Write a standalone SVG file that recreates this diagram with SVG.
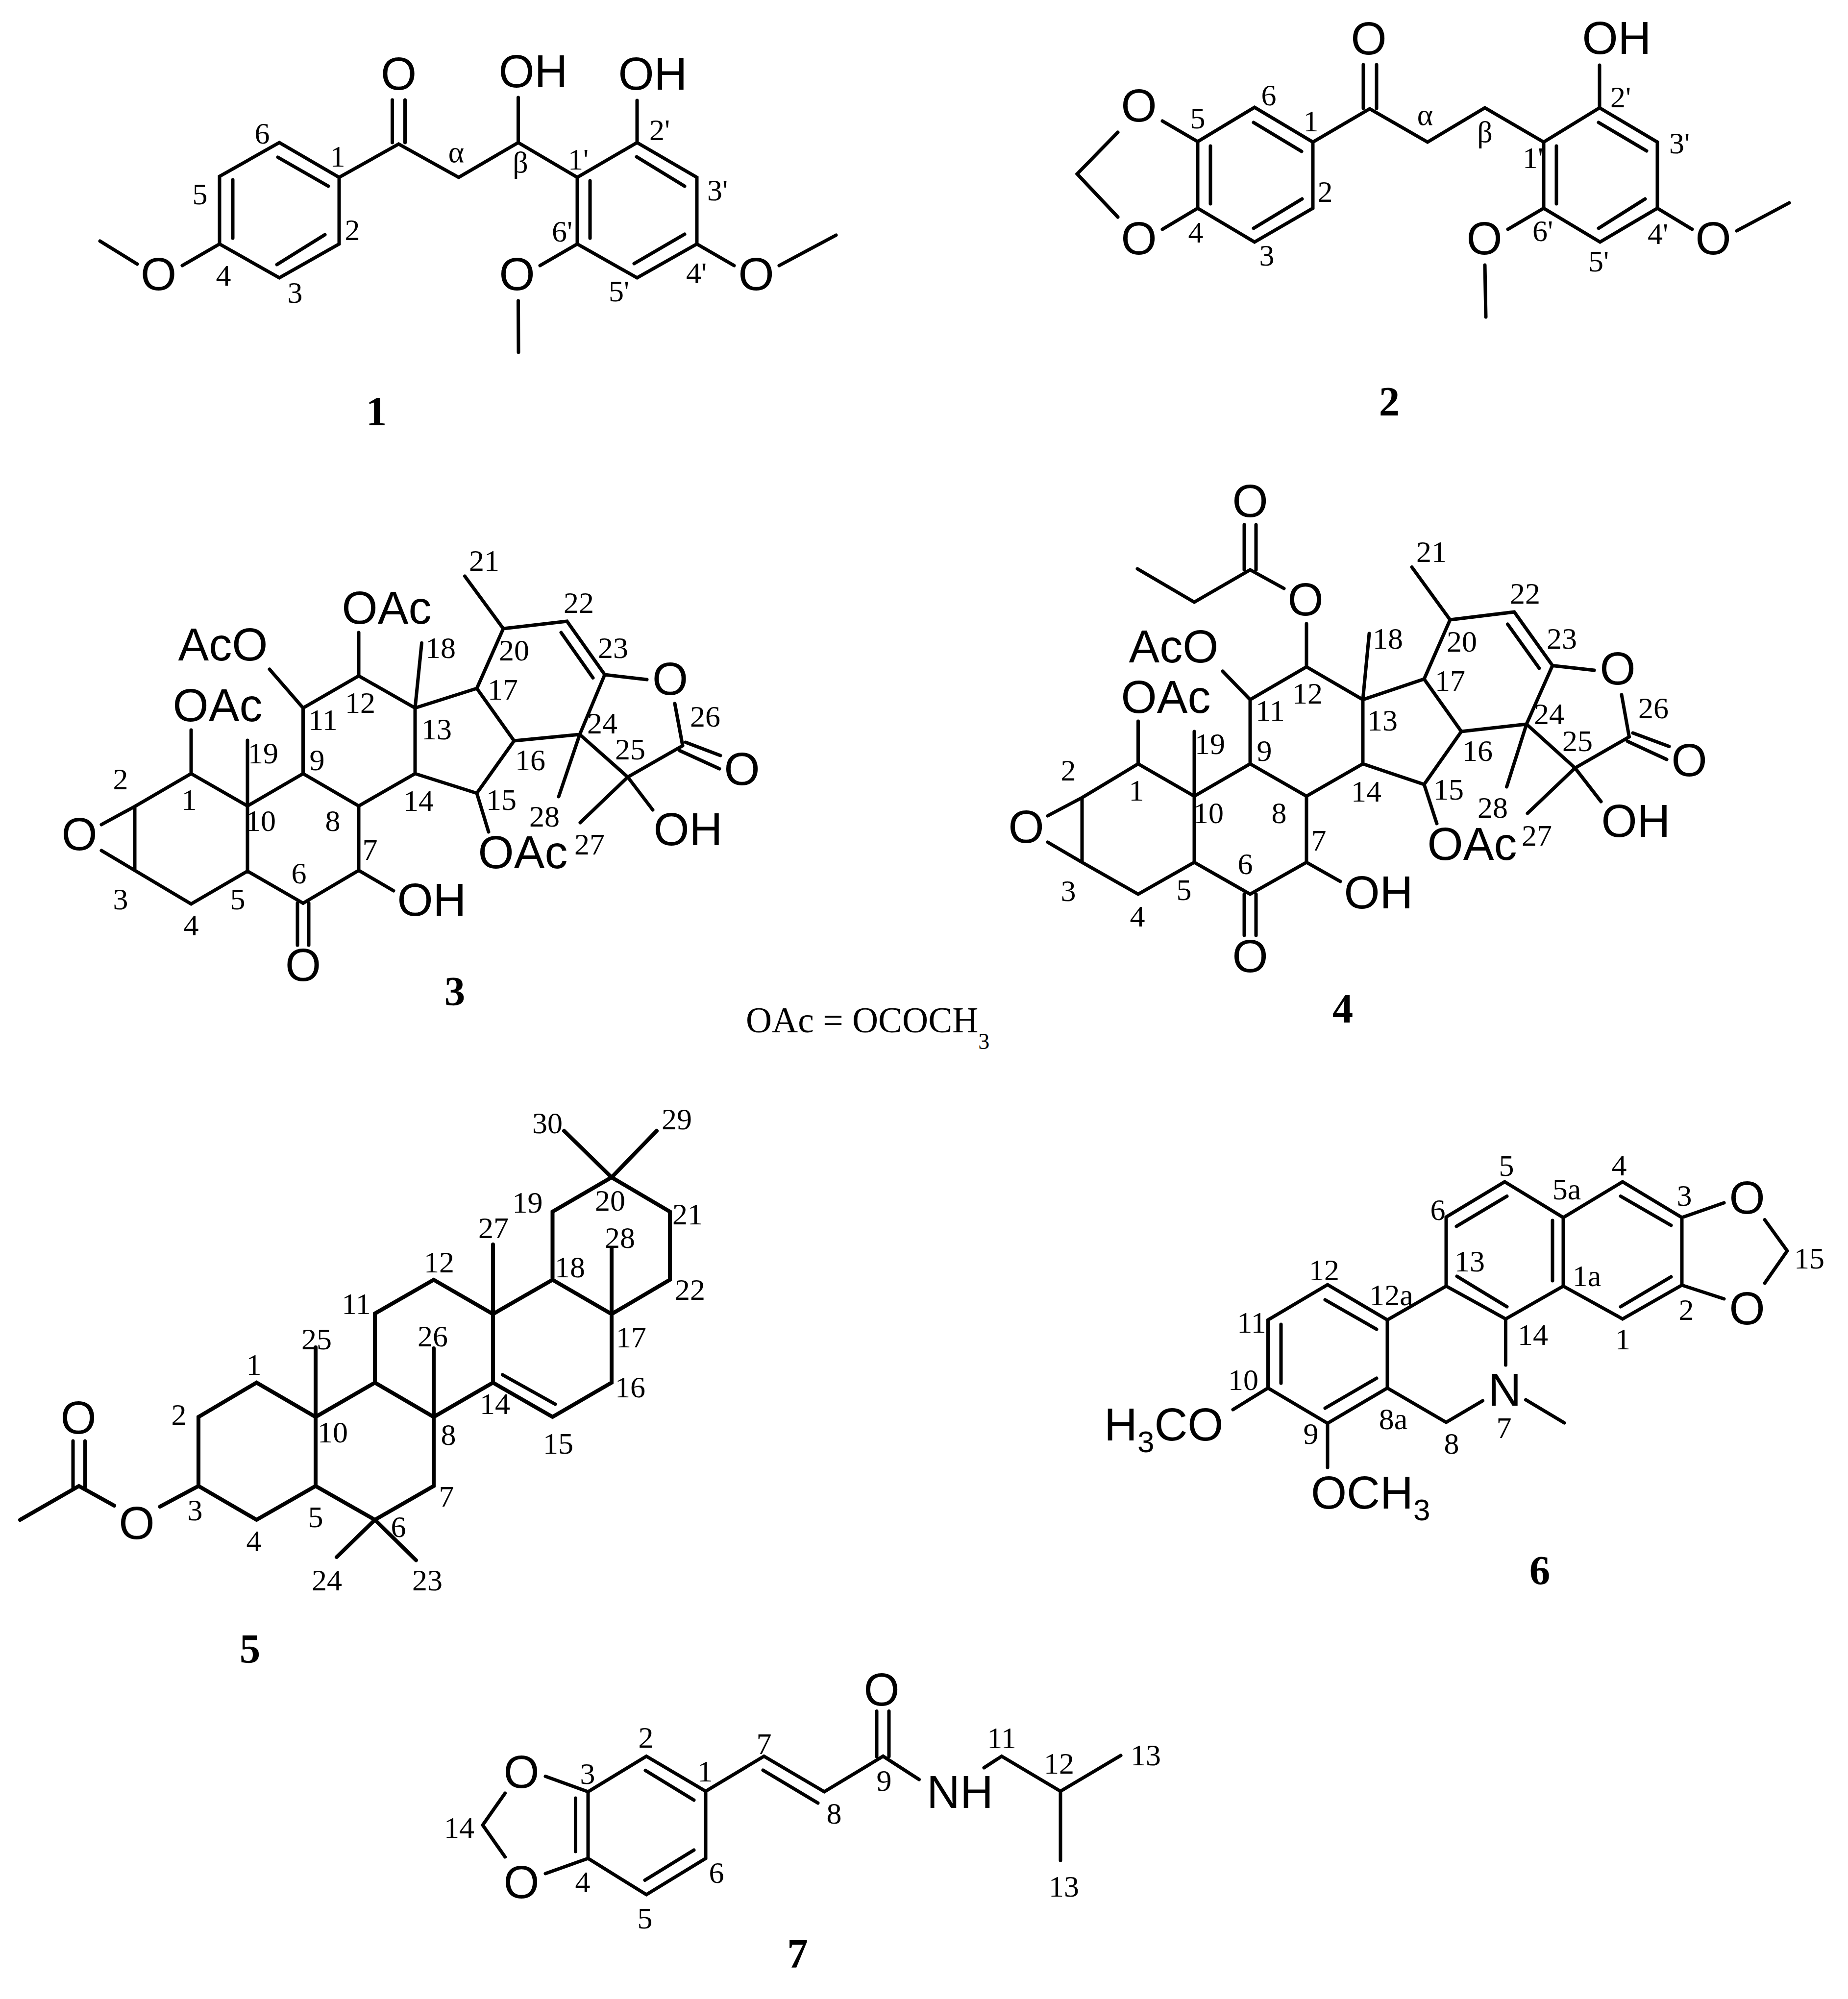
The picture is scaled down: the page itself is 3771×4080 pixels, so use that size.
<svg xmlns="http://www.w3.org/2000/svg" width="3771" height="4080" viewBox="0 0 3771 4080">
<style>
.bg{fill:#fff}
.bond{fill:none;stroke:#000;stroke-width:7;stroke-linejoin:miter;stroke-linecap:round}
.heavy{stroke-width:8}
text{fill:#000}
.a{font-family:"Liberation Sans",Arial,sans-serif;font-size:94px;text-anchor:middle}
.n{font-family:"Liberation Serif","Times New Roman",serif;font-size:62px;text-anchor:middle}
.c{font-family:"Liberation Serif","Times New Roman",serif;font-size:85px;font-weight:bold;text-anchor:middle}
.s{text-anchor:start}
.f{font-family:"Liberation Serif","Times New Roman",serif;font-size:73.5px}
</style>
<rect class="bg" width="3771" height="4080"/>
<g id="connectors">
<path class="bond" d="M570 291L692 362L692 498L570 567L448 498L448 360ZM567 321L670 380M475 367L475 486M663 479L565 540M692 362L813.5 294L936 362L1057.5 291L1178 362L1300 291L1422 362L1422 498L1300 567L1178 498L1178 362M800.5 204L800.5 291M826.5 204L826.5 291M1057.5 199L1057.5 291M1300 205L1300 291M1299 320L1397 380M1204 369L1204 486M1397 478L1294 538M448 498L372 542M280 539L204 492M1178 498L1102 542M1057.5 614L1058 719M1422 498L1498 542M1590 542L1706 480"/>
<path class="bond" d="M2560 219L2679 290L2679 425L2560 494L2444 425L2444 289ZM2558 250L2656 309M2470 298L2470 416M2657 406L2558 466M2679 290L2795 222L2913 290L3030 220L3150 290L3264 220L3382 290L3382 425L3265 494L3150 425L3150 290M2782 132L2782 221M2809 132L2809 221M3264 133L3264 220M3262 250L3360 308M3176 298L3176 416M3357 406L3262 466M2444 289L2372 247M2281 270L2198 355L2281 443M2444 425L2372 468M3150 425L3077 468M3030 541L3032 647M3382 425L3453 468M3544 471L3651 414"/>
<path class="bond" d="M390 1579L275 1646L275 1776.5L390 1845L505 1778L505 1645ZM505 1645L618.5 1579L732 1645L732 1776.5L618.5 1843.5L505 1778M618.5 1579L618.5 1445L732 1379.5L847 1445L847 1579L732 1645M847 1579L973 1619L1049 1512L973 1405L847 1445M973 1405L1027 1283L1157 1268L1234 1377L1183 1499L1049 1512M1027 1283L948.5 1176M390 1579L390 1490M505 1645L505 1511M207 1683L275 1646M207 1736L275 1776.5M618.5 1445L550 1366M732 1379.5L732 1291M847 1445L860.5 1312.5M607 1843L607 1929M630 1843L630 1929M1145 1291L1210 1383.5M1234 1377L1320 1387M1377 1436L1393 1522M1399 1515L1470 1542M1387 1532L1468 1569M1183 1499L1140 1626M1183 1499L1281 1586L1393 1522M1281 1586L1184 1679M1281 1586L1332 1653M973 1619L997 1698M732 1776.5L803 1818"/>
<path class="bond" d="M2322.5 1559L2208 1628L2208 1760L2322.5 1825L2437 1760L2437 1625ZM2437 1625L2551 1559L2666 1625L2666 1760L2551 1825L2437 1760M2551 1559L2551 1428L2666 1361L2781 1428L2781 1559L2666 1625M2781 1559L2906 1601L2982 1493L2906 1386L2781 1428M2906 1386L2959 1265L3090 1249L3168 1358.5L3115 1478L2982 1493M2959 1265L2881 1157.5M2322.5 1559L2322.5 1472M2437 1625L2437 1493M2138 1665L2208 1628M2138 1719L2208 1760M2551 1428L2495 1370M2666 1361L2666 1273M2620 1201L2551 1163L2437 1229L2321 1161M2539 1071L2539 1163M2563 1071L2563 1163M2781 1428L2794 1293M3076.5 1274L3141 1364M3168 1358.5L3253 1368M3309 1418L3324.5 1504M3332 1496L3406 1523.5M3321 1513L3401 1550M3115 1478L3074.5 1606M3115 1478L3214 1567.5L3324.5 1504M3214 1567.5L3117 1660M3214 1567.5L3267 1636M2906 1601L2932 1681M2666 1760L2735 1799M2539 1825L2539 1909M2563 1825L2563 1909"/>
<path class="bond heavy" d="M523.5 2822L405 2892L405 3033L523.5 3102L644 3033L644 2892ZM644 2892L644 2750M644 2892L765 2822L885 2892L885 3033L765 3102L644 3033M885 2892L885 2752M765 2822L765 2681L885 2612L1006 2682L1006 2822L885 2892M1006 2682L1006 2540M1006 2822L1127.5 2892L1248 2822L1248 2682L1127.5 2612L1006 2682M1127.5 2612L1127.5 2473L1248 2403L1367 2473L1367 2612L1248 2682M1248 2682L1248 2547M1248 2403L1151 2308M1248 2403L1340 2308M765 3102L687 3178M765 3102L849 3184.5M405 3033L326.5 3075M233 3073L161 3033L41 3102"/>
<path class="bond" d="M1025.5 2806L1133 2866M149 2941L149 3036M173.5 2941L173.5 3036"/>
<path class="bond" d="M3070.5 2412L2951 2484L2951 2625L3072.5 2692L3190 2625L3190 2485ZM3190 2485L3311 2412L3432 2485L3432 2623L3311 2692L3190 2625M3432 2485L3518 2455M3432 2623L3518 2651M3601 2489.5L3647 2553L3601 2619M2951 2625L2831 2694L2709 2622L2587.5 2694L2587.5 2833L2709 2905L2831 2833L2831 2694M2831 2833L2951 2903L3025.5 2859M3072.5 2692L3072.5 2786M3113.5 2857L3192 2904M3075 2441.5L2972 2503M3168 2491L3168 2614M3307 2441.5L3410 2501M3410 2606L3307 2667M2973 2605L3075 2667M2704 2653L2809 2713M2614 2703L2614 2823M2704 2874L2809 2813M2587.5 2833L2516 2877M2709 2905L2709 2995"/>
<path class="bond" d="M1200 3657L1319 3584.5L1440 3656L1440 3793L1319 3867L1200 3793ZM1317 3613.5L1416 3674M1174.5 3670L1174.5 3779M1416 3776L1316 3837.5M1200 3657L1113 3625.5M1200 3793L1113 3824M1030.6 3660L985 3725L1030.6 3790M1440 3656L1559 3584.5L1682 3657L1802 3584.5L1875.5 3632M1557 3613L1669 3680M1789 3492.5L1789 3585M1814 3492.5L1814 3585M2008 3608L2044 3584.5L2164 3656L2287 3583M2164 3656L2164 3797"/>
</g>
<g id="compound-1">
<text class="a" x="813.5" y="183">O</text><text class="a" x="1088" y="178">OH</text><text class="a" x="1332" y="183">OH</text><text class="a" x="323.5" y="592">O</text><text class="a" x="1055" y="592">O</text><text class="a" x="1543" y="592">O</text>
<text class="n" x="535" y="293">6</text><text class="n" x="689" y="340">1</text><text class="n" x="408" y="417">5</text><text class="n" x="719" y="490">2</text><text class="n" x="456" y="583">4</text><text class="n" x="602" y="618">3</text><text class="n" x="931" y="331">α</text><text class="n" x="1062" y="352">β</text><text class="n" x="1180" y="346">1'</text><text class="n" x="1346" y="286">2'</text><text class="n" x="1464" y="409">3'</text><text class="n" x="1147" y="493">6'</text><text class="n" x="1421" y="578">4'</text><text class="n" x="1263" y="615">5'</text>
<text class="c" x="768" y="868">1</text>
</g>
<g id="compound-2">
<text class="a" x="2793" y="111">O</text><text class="a" x="3299" y="110">OH</text><text class="a" x="2324" y="248">O</text><text class="a" x="2324" y="519">O</text><text class="a" x="3029" y="519">O</text><text class="a" x="3496" y="519">O</text>
<text class="n" x="2589" y="215">6</text><text class="n" x="2444" y="262">5</text><text class="n" x="2675" y="268">1</text><text class="n" x="2704" y="412">2</text><text class="n" x="2440" y="495">4</text><text class="n" x="2585" y="542">3</text><text class="n" x="2908" y="255">α</text><text class="n" x="3030" y="290">β</text><text class="n" x="3307" y="219">2'</text><text class="n" x="3427" y="313">3'</text><text class="n" x="3128" y="343">1'</text><text class="n" x="3148" y="492">6'</text><text class="n" x="3383" y="498">4'</text><text class="n" x="3262" y="554">5'</text>
<text class="c" x="2835" y="848">2</text>
</g>
<g id="compound-3">
<text class="a" x="444" y="1472">OAc</text><text class="a" x="455" y="1348">AcO</text><text class="a" x="789" y="1273">OAc</text><text class="a" x="1067" y="1772">OAc</text><text class="a" x="881" y="1869">OH</text><text class="a" x="1404" y="1725">OH</text><text class="a" x="162" y="1735">O</text><text class="a" x="1367.5" y="1418">O</text><text class="a" x="1514" y="1602">O</text><text class="a" x="618.5" y="2002">O</text>
<text class="n" x="988" y="1165">21</text><text class="n" x="1181" y="1251">22</text><text class="n" x="1251" y="1343">23</text><text class="n" x="899" y="1343">18</text><text class="n" x="1049" y="1348">20</text><text class="n" x="1026" y="1428">17</text><text class="n" x="735" y="1455">12</text><text class="n" x="659" y="1490">11</text><text class="n" x="891" y="1509">13</text><text class="n" x="1229" y="1497">24</text><text class="n" x="1439" y="1483">26</text><text class="n" x="1286" y="1550">25</text><text class="n" x="1082" y="1572">16</text><text class="n" x="537" y="1558">19</text><text class="n" x="647" y="1572">9</text><text class="n" x="246" y="1611">2</text><text class="n" x="386" y="1653">1</text><text class="n" x="854" y="1655">14</text><text class="n" x="1023" y="1653">15</text><text class="n" x="1111" y="1687">28</text><text class="n" x="532" y="1696">10</text><text class="n" x="679" y="1696">8</text><text class="n" x="1203" y="1744">27</text><text class="n" x="755" y="1755">7</text><text class="n" x="610" y="1803">6</text><text class="n" x="485" y="1855.5">5</text><text class="n" x="246" y="1855.5">3</text><text class="n" x="390" y="1909">4</text>
<text class="c" x="928" y="2052">3</text>
</g>
<g id="compound-4">
<text class="a" x="2379" y="1455">OAc</text><text class="a" x="2395" y="1352">AcO</text><text class="a" x="2664" y="1256">O</text><text class="a" x="2551" y="1055">O</text><text class="a" x="3004" y="1755">OAc</text><text class="a" x="2813" y="1854">OH</text><text class="a" x="3338" y="1708">OH</text><text class="a" x="2094" y="1720">O</text><text class="a" x="3301" y="1397">O</text><text class="a" x="3447" y="1584">O</text><text class="a" x="2551" y="1984">O</text>
<text class="n" x="2921" y="1146.5">21</text><text class="n" x="3112" y="1232">22</text><text class="n" x="3187" y="1324">23</text><text class="n" x="2832" y="1324">18</text><text class="n" x="2983" y="1330">20</text><text class="n" x="2959" y="1410">17</text><text class="n" x="2668" y="1435.5">12</text><text class="n" x="2592" y="1471">11</text><text class="n" x="2821" y="1491">13</text><text class="n" x="3161" y="1478">24</text><text class="n" x="3374" y="1466">26</text><text class="n" x="3219" y="1533">25</text><text class="n" x="3015" y="1553">16</text><text class="n" x="2469" y="1539">19</text><text class="n" x="2580" y="1553">9</text><text class="n" x="2180" y="1593">2</text><text class="n" x="2319" y="1633.5">1</text><text class="n" x="2788" y="1636">14</text><text class="n" x="2956" y="1632">15</text><text class="n" x="3046" y="1669">28</text><text class="n" x="2466" y="1680">10</text><text class="n" x="2610" y="1680">8</text><text class="n" x="3136" y="1726">27</text><text class="n" x="2691" y="1736">7</text><text class="n" x="2541" y="1784">6</text><text class="n" x="2416" y="1837">5</text><text class="n" x="2180" y="1839">3</text><text class="n" x="2321" y="1891">4</text>
<text class="c" x="2740" y="2087">4</text>
</g>
<g id="legend">
<text class="f" x="1522" y="2107">OAc = OCOCH<tspan font-size="46" dy="34">3</tspan></text>
</g>
<g id="compound-5">
<text class="a" x="279" y="3141">O</text><text class="a" x="160" y="2925.5">O</text>
<text class="n" x="1117" y="2313">30</text><text class="n" x="1381" y="2305">29</text><text class="n" x="1076.5" y="2475">19</text><text class="n" x="1245" y="2471">20</text><text class="n" x="1403" y="2499">21</text><text class="n" x="1007" y="2527">27</text><text class="n" x="1265" y="2547">28</text><text class="n" x="896" y="2597">12</text><text class="n" x="1163" y="2607">18</text><text class="n" x="1408" y="2653">22</text><text class="n" x="727" y="2682">11</text><text class="n" x="1288" y="2750">17</text><text class="n" x="646" y="2754">25</text><text class="n" x="883" y="2748">26</text><text class="n" x="518" y="2806">1</text><text class="n" x="1286" y="2852">16</text><text class="n" x="365" y="2908">2</text><text class="n" x="1010" y="2886">14</text><text class="n" x="679" y="2944">10</text><text class="n" x="915" y="2949">8</text><text class="n" x="1139" y="2967">15</text><text class="n" x="911" y="3075">7</text><text class="n" x="398" y="3103">3</text><text class="n" x="644" y="3117">5</text><text class="n" x="813" y="3137">6</text><text class="n" x="518" y="3166">4</text><text class="n" x="667" y="3246">24</text><text class="n" x="872" y="3246">23</text>
<text class="c" x="510" y="3394">5</text>
</g>
<g id="compound-6">
<text class="a" x="3565" y="2477">O</text><text class="a" x="3565" y="2703">O</text><text class="a" x="3070.5" y="2869">N</text>
<text class="a s" x="2253" y="2940">H<tspan font-size="62" dy="24">3</tspan><tspan dy="-24">CO</tspan></text>
<text class="a s" x="2675" y="3079">OCH<tspan font-size="62" dy="24">3</tspan></text>
<text class="n" x="3074" y="2400">5</text><text class="n" x="3304" y="2399">4</text><text class="n" x="3197" y="2448">5a</text><text class="n" x="3437" y="2461">3</text><text class="n" x="2934" y="2490">6</text><text class="n" x="2999" y="2595">13</text><text class="n" x="2702" y="2612.5">12</text><text class="n" x="3238" y="2625">1a</text><text class="n" x="2839" y="2663.5">12a</text><text class="n" x="3441" y="2693.5">2</text><text class="n" x="2554" y="2720">11</text><text class="n" x="3311.6" y="2754">1</text><text class="n" x="3128" y="2745">14</text><text class="n" x="2537" y="2837">10</text><text class="n" x="2843" y="2917">8a</text><text class="n" x="2675" y="2947">9</text><text class="n" x="3069" y="2935">7</text><text class="n" x="2962" y="2966.5">8</text><text class="n" x="3692" y="2589">15</text>
<text class="c" x="3142" y="3234">6</text>
</g>
<g id="compound-7">
<text class="a" x="1064" y="3649">O</text><text class="a" x="1064" y="3874">O</text><text class="a" x="1799" y="3480.5">O</text><text class="a" x="1959" y="3690">NH</text>
<text class="n" x="1318" y="3567">2</text><text class="n" x="1559" y="3580">7</text><text class="n" x="2044" y="3567.5">11</text><text class="n" x="2338" y="3603">13</text><text class="n" x="2161" y="3620">12</text><text class="n" x="1199" y="3641">3</text><text class="n" x="1439" y="3636">1</text><text class="n" x="1804" y="3654.5">9</text><text class="n" x="1702" y="3721.5">8</text><text class="n" x="937" y="3750.5">14</text><text class="n" x="1462" y="3843">6</text><text class="n" x="1189" y="3862">4</text><text class="n" x="2171" y="3871">13</text><text class="n" x="1316" y="3936">5</text>
<text class="c" x="1627.5" y="4016">7</text>
</g>
</svg>
